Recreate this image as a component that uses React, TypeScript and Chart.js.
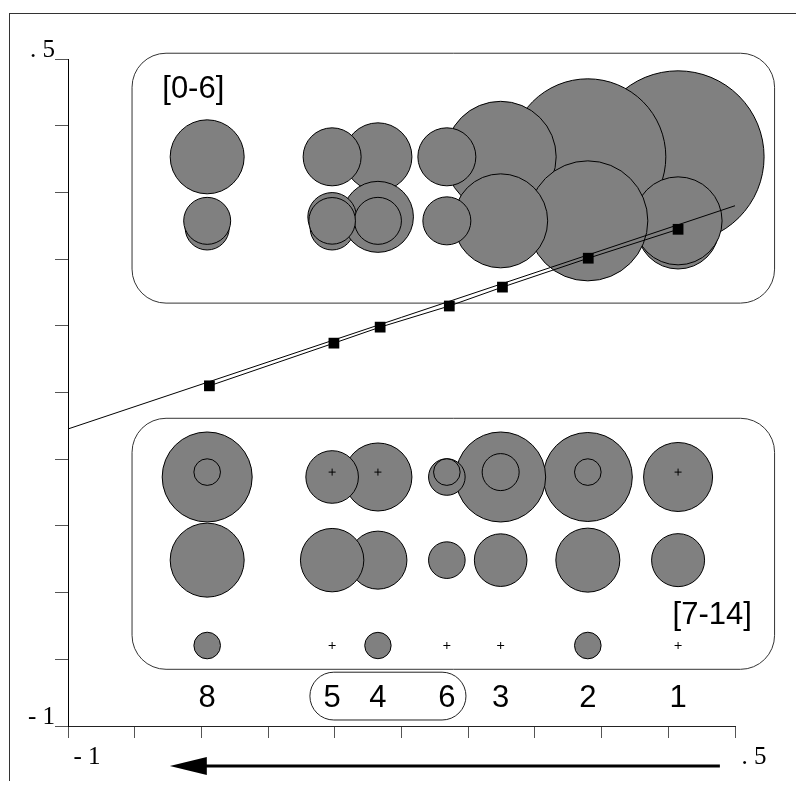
import React, { useEffect, useRef } from 'react';
import { Chart, registerables, BubbleController } from 'chart.js';

Chart.register(...registerables);

// Bubble controller that does not reserve layout room for its largest bubble
class FlatBubbleController extends BubbleController {
  getMaxOverflow() {
    return 0 as any;
  }
}
(FlatBubbleController as any).id = 'flatBubble';
Chart.register(FlatBubbleController as any);

// ---- categories (drawing order right to left) ----
const categories = ['1', '2', '3', '4', '5', '6', '8'];
const categoryX = [0.372, 0.169, -0.027, -0.303, -0.406, -0.148, -0.687];

// ---- upper group [0-6] ----
const upperRow1Y = 0.280;
const upperRow1R = [86, 78, 55.5, 34, 29, 29, 37];
const upperRow2Y = 0.136;
const upperRow2R = [44, 60, 47, 23.5, 23.3, 24, 23.5];
const upperRow2HighY = 0.145;
const upperRow2HighR = [0, 0, 0, 35.5, 24.3, 0, 0];
const upperRow2LowY = 0.120;
const upperRow2LowR = [41, 0, 0, 0, 22, 0, 22];

// ---- lower group [7-14] ----
const lowerRow1Y = -0.440;
const lowerRow1R = [34.5, 44.5, 45, 34, 26.3, 18.3, 45];
const lowerRow1InnerY = -0.429;
const lowerRow1InnerR = [0, 13.3, 18.5, 0, 0, 13.3, 13.3];
const lowerRow2Y = -0.627;
const lowerRow2R = [26.5, 32, 26.3, 29, 31.7, 18.3, 37];
const lowerRow3Y = -0.819;
const lowerRow3R = [0, 13.3, 0, 13.2, 0, 0, 13.3];

// ---- trend markers and fitted line ----
const markerX = [-0.682, -0.402, -0.298, -0.1425, -0.023, 0.170, 0.372];
const markerY = [-0.235, -0.139, -0.103, -0.0555, -0.013, 0.052, 0.117];
const fitX = [-1, 0.5];
const fitY = [-0.332, 0.170];

// ---- axis ----
const axisMin = -1;
const axisMax = 0.5;
const axisStep = 0.15;
const axisEndLabels = ['- 1', '. 5'];

// ---- annotations (data units) ----
const groupLabels = ['[0-6]', '[7-14]'];
const groupLabelX = [-0.788, 0.3595];
const groupLabelY = [0.412, -0.7706];
const upperBoxX = [-0.856, 0.589];
const upperBoxY = [-0.049, 0.513];
const lowerBoxX = [-0.856, 0.589];
const lowerBoxY = [-0.8725, -0.308];
const clusterX = [-0.456, -0.105];
const clusterY = [-0.9865, -0.879];
const categoryLabelY = -0.9583;
const arrowX = [0.466, -0.771];

const GRAY = '#808080';

function bubbleRow(y: number, radii: number[]) {
  return categoryX.map((x, i) => ({ x, y, r: radii[i] }));
}

function crossRow(y: number, radii: number[]) {
  return categoryX
    .map((x, i) => ({ x, y, r: radii[i] }))
    .filter((p) => p.r === 0)
    .map((p) => ({ x: p.x, y: p.y }));
}

function roundRectPath(ctx: CanvasRenderingContext2D, x0: number, y0: number, x1: number, y1: number, r: number) {
  const rr = Math.min(r, (x1 - x0) / 2, (y1 - y0) / 2);
  ctx.beginPath();
  ctx.moveTo(x0 + rr, y0);
  ctx.lineTo(x1 - rr, y0);
  ctx.arcTo(x1, y0, x1, y0 + rr, rr);
  ctx.lineTo(x1, y1 - rr);
  ctx.arcTo(x1, y1, x1 - rr, y1, rr);
  ctx.lineTo(x0 + rr, y1);
  ctx.arcTo(x0, y1, x0, y1 - rr, rr);
  ctx.lineTo(x0, y0 + rr);
  ctx.arcTo(x0, y0, x0 + rr, y0, rr);
  ctx.closePath();
}

const decorPlugin = {
  id: 'decor',
  beforeDraw(chart: any) {
    const ctx = chart.ctx as CanvasRenderingContext2D;
    ctx.save();
    ctx.strokeStyle = '#333';
    ctx.lineWidth = 1;
    ctx.strokeRect(1.5, 5.5, chart.width + 20, chart.height + 20);
    ctx.restore();
  },
  beforeDatasetsDraw(chart: any) {
    const ctx = chart.ctx as CanvasRenderingContext2D;
    const xs = chart.scales.x;
    const ys = chart.scales.y;
    ctx.save();
    ctx.strokeStyle = '#333';
    ctx.lineWidth = 1;
    roundRectPath(ctx, xs.getPixelForValue(upperBoxX[0]), ys.getPixelForValue(upperBoxY[1]), xs.getPixelForValue(upperBoxX[1]), ys.getPixelForValue(upperBoxY[0]), 34);
    ctx.stroke();
    roundRectPath(ctx, xs.getPixelForValue(lowerBoxX[0]), ys.getPixelForValue(lowerBoxY[1]), xs.getPixelForValue(lowerBoxX[1]), ys.getPixelForValue(lowerBoxY[0]), 34);
    ctx.stroke();
    ctx.restore();
  },
  afterDatasetsDraw(chart: any) {
    const ctx = chart.ctx as CanvasRenderingContext2D;
    const xs = chart.scales.x;
    const ys = chart.scales.y;
    ctx.save();
    ctx.fillStyle = '#000';
    ctx.font = '31px "Liberation Sans", Arial, sans-serif';
    ctx.textBaseline = 'alphabetic';
    ctx.textAlign = 'left';
    groupLabels.forEach((t, i) => {
      ctx.fillText(t, xs.getPixelForValue(groupLabelX[i]), ys.getPixelForValue(groupLabelY[i]));
    });
    ctx.textAlign = 'center';
    categories.forEach((c, i) => {
      ctx.fillText(c, xs.getPixelForValue(categoryX[i]), ys.getPixelForValue(categoryLabelY));
    });
    // cluster outline
    const cy0 = ys.getPixelForValue(clusterY[1]);
    const cy1 = ys.getPixelForValue(clusterY[0]);
    ctx.strokeStyle = '#222';
    ctx.lineWidth = 1;
    roundRectPath(ctx, xs.getPixelForValue(clusterX[0]), cy0, xs.getPixelForValue(clusterX[1]), cy1, (cy1 - cy0) / 2);
    ctx.stroke();
    // arrow
    const ay = chart.chartArea.bottom + 40;
    const ax0 = xs.getPixelForValue(arrowX[0]);
    const ax1 = xs.getPixelForValue(arrowX[1]);
    ctx.strokeStyle = '#000';
    ctx.lineWidth = 3;
    ctx.beginPath();
    ctx.moveTo(ax0, ay);
    ctx.lineTo(ax1 + 30, ay);
    ctx.stroke();
    ctx.beginPath();
    ctx.moveTo(ax1, ay);
    ctx.lineTo(ax1 + 37, ay - 9);
    ctx.lineTo(ax1 + 37, ay + 9);
    ctx.closePath();
    ctx.fillStyle = '#000';
    ctx.fill();
    ctx.restore();
  },
};

function endLabel(v: number) {
  if (Math.abs(v - axisMin) < 1e-9) return axisEndLabels[0];
  if (Math.abs(v - axisMax) < 1e-9) return axisEndLabels[1];
  return '';
}

export default function App() {
  const ref = useRef<HTMLCanvasElement>(null);

  useEffect(() => {
    const bubbleStyle = {
      type: 'flatBubble',
      backgroundColor: GRAY,
      borderColor: '#000',
      borderWidth: 1,
      clip: false as any,
    };
    const datasets: any[] = [
      {
        type: 'scatter',
        data: markerX.map((x, i) => ({ x, y: markerY[i] })),
        showLine: true,
        borderColor: '#000',
        borderWidth: 1,
        pointStyle: 'rect',
        pointRadius: 7.6,
        pointBackgroundColor: '#000',
        pointBorderWidth: 0,
        clip: false,
        order: 0,
      },
      {
        type: 'scatter',
        data: fitX.map((x, i) => ({ x, y: fitY[i] })),
        showLine: true,
        borderColor: '#000',
        borderWidth: 1,
        pointRadius: 0,
        clip: false,
        order: 1,
      },
      {
        type: 'scatter',
        data: [...crossRow(lowerRow1InnerY, lowerRow1InnerR), ...crossRow(lowerRow3Y, lowerRow3R)],
        pointStyle: 'cross',
        pointRadius: 3.5,
        borderColor: '#000',
        borderWidth: 1,
        clip: false,
        order: 2,
      },
      { ...bubbleStyle, data: bubbleRow(upperRow2Y, upperRow2R), order: 3 },
      { ...bubbleStyle, data: bubbleRow(upperRow2HighY, upperRow2HighR), order: 4 },
      { ...bubbleStyle, data: bubbleRow(upperRow2LowY, upperRow2LowR), order: 5 },
      { ...bubbleStyle, data: bubbleRow(upperRow1Y, upperRow1R), order: 6 },
      { ...bubbleStyle, data: bubbleRow(lowerRow1InnerY, lowerRow1InnerR), order: 3 },
      { ...bubbleStyle, data: bubbleRow(lowerRow1Y, lowerRow1R), order: 4 },
      { ...bubbleStyle, data: bubbleRow(lowerRow2Y, lowerRow2R), order: 5 },
      { ...bubbleStyle, data: bubbleRow(lowerRow3Y, lowerRow3R), order: 6 },
    ];

    const tickFont = { family: '"Liberation Serif", "Times New Roman", serif', size: 25 };

    const chart = new Chart(ref.current as HTMLCanvasElement, {
      type: 'scatter',
      data: { datasets },
      options: {
        responsive: false,
        animation: false,
        devicePixelRatio: 1,
        events: [],
        layout: { padding: { left: 0, top: 51, right: 61, bottom: 0 } },
        plugins: { legend: { display: false }, tooltip: { enabled: false } },
        scales: {
          x: {
            type: 'linear',
            position: 'bottom',
            min: axisMin,
            max: axisMax,
            ticks: {
              stepSize: axisStep,
              autoSkip: false,
              maxRotation: 0,
              labelOffset: 19,
              padding: 4,
              color: '#000',
              font: tickFont,
              callback: (v: any) => endLabel(Number(v)),
            },
            grid: { drawOnChartArea: false, drawTicks: true, tickLength: 12, color: '#555' },
            border: { display: true, color: '#222', width: 1 },
            afterFit: (s: any) => {
              s.height = 55;
            },
          },
          y: {
            type: 'linear',
            position: 'left',
            min: axisMin,
            max: axisMax,
            ticks: {
              stepSize: axisStep,
              autoSkip: false,
              labelOffset: -9,
              padding: 0,
              color: '#000',
              font: tickFont,
              callback: (v: any) => endLabel(Number(v)),
            },
            grid: { drawOnChartArea: false, drawTicks: true, tickLength: 13, color: '#555' },
            border: { display: true, color: '#000', width: 1 },
            afterFit: (s: any) => {
              s.width = 60;
            },
          },
        },
      } as any,
      plugins: [decorPlugin],
    });
    return () => chart.destroy();
  }, []);

  return (
    <canvas
      ref={ref}
      width={788}
      height={773}
      style={{ display: 'block', width: 788, height: 773 }}
    />
  );
}
